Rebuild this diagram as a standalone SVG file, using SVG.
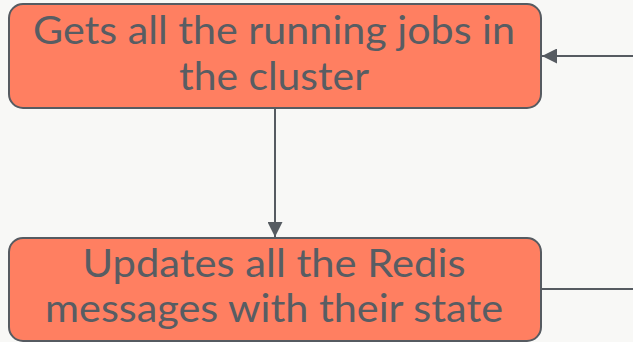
<svg xmlns="http://www.w3.org/2000/svg" width="633" height="342" viewBox="0 0 633 342">
  <defs>
    <style>
      .node rect { fill: #ff7f61; stroke: #565b61; stroke-width: 2; }
      .node text { fill: #585d63; font-family: "Lato", "Noto Sans", "Liberation Sans", sans-serif; font-size: 38px; text-anchor: middle; }
      .edge { stroke: #565b61; stroke-width: 2; fill: none; }
    </style>
    <marker id="arrow" viewBox="0 0 15 15" refX="15" refY="7.5" markerWidth="15" markerHeight="15" markerUnits="userSpaceOnUse" orient="auto">
      <path d="M0,0 L15,7.5 L0,15 Z" fill="#565b61"/>
    </marker>
  </defs>
  <rect width="633" height="342" fill="#f8f8f6"/>

  <g id="edges">
    <line class="edge" x1="275" y1="108" x2="275" y2="237" marker-end="url(#arrow)"/>
    <line class="edge" x1="633" y1="56" x2="542" y2="56" marker-end="url(#arrow)"/>
    <line class="edge" x1="541" y1="289" x2="633" y2="289"/>
  </g>

  <g id="get-running-jobs" class="node">
    <rect x="9" y="4" width="532" height="104" rx="14"/>
    <text x="274" y="44" textLength="482" lengthAdjust="spacingAndGlyphs">Gets all the running jobs in</text>
    <text x="274" y="90" textLength="190" lengthAdjust="spacingAndGlyphs">the cluster</text>
  </g>

  <g id="update-redis-messages" class="node">
    <rect x="9" y="238" width="532" height="103" rx="14"/>
    <text x="274" y="277" textLength="383" lengthAdjust="spacingAndGlyphs">Updates all the Redis</text>
    <text x="274" y="322" textLength="458" lengthAdjust="spacingAndGlyphs">messages with their state</text>
  </g>
</svg>
